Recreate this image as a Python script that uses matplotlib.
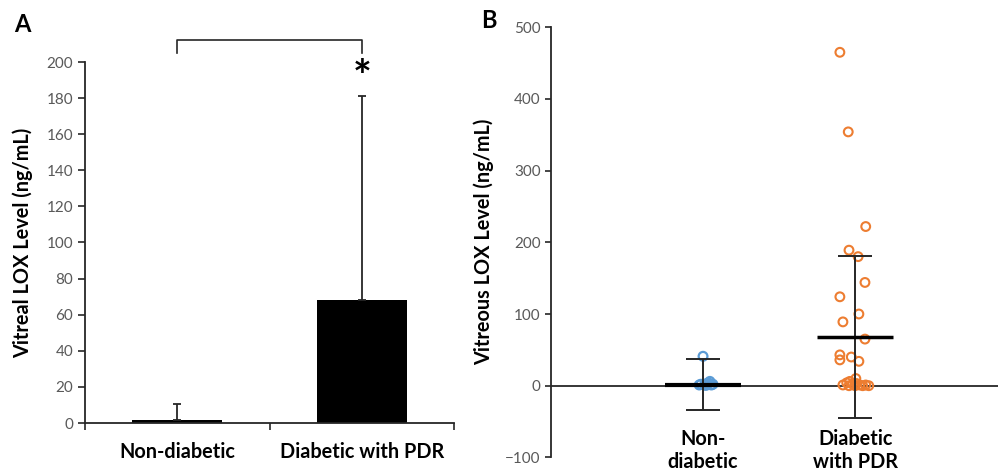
import numpy as np
import matplotlib.pyplot as plt

plt.rcParams["font.family"] = ["Lato", "DejaVu Sans"]

# panel A: group means and upper SD
groups = ["Non-diabetic", "Diabetic with PDR"]
means = [1.8, 68]
sds = [8.7, 113]

# panel B: individual measurements (x offset within group, value)
nondiab_off = [0.0, 0.01, -0.015, 0.025, 0.045, 0.065, -0.025, 0.02, 0.035, 0.055]
nondiab_val = [41, 1, 2, 3, 6, 2, 1, 0.5, 4, 1]
diab_off = [-0.1, -0.045, 0.07, -0.04, 0.02, 0.065, -0.1, 0.025, -0.08, 0.065,
            -0.1, -0.1, -0.025, 0.025, 0.005,
            -0.08, -0.055, -0.035, -0.015, 0.01, 0.03, 0.05, 0.07, 0.09, -0.04, 0.0]
diab_val = [465, 354, 222, 189, 180, 144, 124, 100, 89, 65,
            43, 36, 40, 34, 10,
            1, 4, 6, 2, 3, 1, 0, 1, 0, 0, 0]
b_mean = [1.5, 68]
b_sd = [36, 113]
b_labels = ["Non-\ndiabetic", "Diabetic\nwith PDR"]

dark = "#262626"
tickc = "#595959"

fig = plt.figure(figsize=(9.98, 4.73), dpi=100)

# ---- A
ax = fig.add_axes([85/998, 1-423/473, (454-85)/998, (423-62)/473])
x = np.arange(len(groups))
ax.bar(x, means, width=0.49, color="black")
ax.errorbar(x, means, yerr=[np.zeros(2), sds], fmt="none", ecolor=dark,
            elinewidth=1.3, capsize=3, capthick=1.3)
ax.set_xlim(-0.5, 1.5)
ax.set_ylim(0, 200)
ax.set_yticks(np.arange(0, 201, 20))
ax.set_xticks([0, 1])
ax.set_xticklabels(groups, fontsize=14.3, fontweight="bold")
ax.set_xticks([-0.5, 0.5, 1.5], minor=True)
ax.tick_params(axis="x", which="major", length=0, pad=14)
ax.tick_params(axis="x", which="minor", length=5, width=1.2, color=dark, direction="out")
ax.tick_params(axis="y", length=5, width=1.2, color=dark, labelsize=11, labelcolor=tickc)
for s in ["top", "right"]:
    ax.spines[s].set_visible(False)
for s in ["left", "bottom"]:
    ax.spines[s].set_color(dark)
    ax.spines[s].set_linewidth(1.3)
ax.set_ylabel("Vitreal LOX Level (ng/mL)", fontsize=14.3, fontweight="bold", labelpad=10)
# significance bracket
ax.plot([0, 0, 1, 1], [205, 212, 212, 205], color=dark, lw=1.2, clip_on=False)
ax.text(1, 180, "*", fontsize=32, fontweight="bold", ha="center", va="bottom")
fig.text(22/998, 1-25/473, "A", fontsize=17, fontweight="bold", ha="center", va="center")

# ---- B
bx = fig.add_axes([551/998, 1-457.4/473, (998-551)/998, (457.4-27.2)/473])
bx.set_xlim(0, 2.94)
bx.set_ylim(-100, 500)
bx.axhline(0, color=dark, lw=1.3)
bx.scatter(1 + np.array(nondiab_off), nondiab_val, s=40, facecolors="none",
           edgecolors="#5B9BD5", linewidths=1.6, zorder=3)
bx.scatter(2 + np.array(diab_off), diab_val, s=40, facecolors="none",
           edgecolors="#ED7D31", linewidths=1.5, zorder=3)
bx.errorbar([1, 2], b_mean, yerr=b_sd, fmt="none", ecolor=dark,
            elinewidth=1.4, capsize=12, capthick=1.4, zorder=4)
bx.hlines(b_mean[0], 1 - 0.25, 1 + 0.25, color="black", lw=3, zorder=4)
bx.hlines(b_mean[1], 2 - 0.25, 2 + 0.25, color="black", lw=2.5, zorder=4)
bx.set_yticks(np.arange(-100, 501, 100))
bx.set_xticks([])
bx.tick_params(axis="y", length=4, width=1.2, color=dark, labelsize=11, labelcolor=tickc)
for s in ["top", "right", "bottom"]:
    bx.spines[s].set_visible(False)
bx.spines["left"].set_color(dark)
bx.spines["left"].set_linewidth(1.3)
for i, lab in enumerate(b_labels):
    bx.text(i + 1, -61, lab, fontsize=14.3, fontweight="bold", ha="center", va="top",
            linespacing=1.15, clip_on=False)
bx.set_ylabel("Vitreous LOX Level (ng/mL)", fontsize=14.3, fontweight="bold", labelpad=8)
fig.text(489/998, 1-20/473, "B", fontsize=17, fontweight="bold", ha="center", va="center")

fig.savefig("out.png", dpi=100)
